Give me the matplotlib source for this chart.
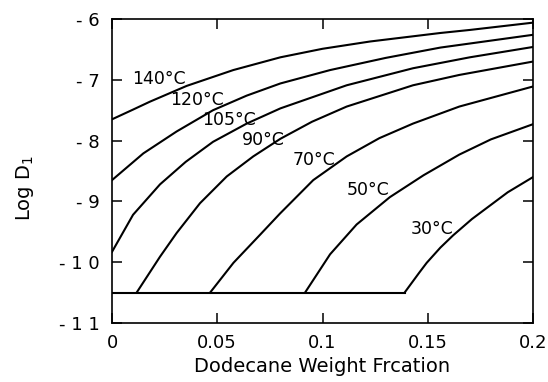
import matplotlib
matplotlib.use("Agg")
import matplotlib.pyplot as plt

# ---- data ----
temps = ["140°C", "120°C", "105°C", "90°C", "70°C", "50°C", "30°C"]

x140 = [0.0, 0.010, 0.018, 0.0355, 0.0576, 0.080, 0.100, 0.1226, 0.156, 0.170, 0.2]
y140 = [-7.65, -7.49, -7.36, -7.10, -6.84, -6.63, -6.49, -6.37, -6.23, -6.18, -6.06]

x120 = [0.0, 0.0149, 0.0307, 0.048, 0.064, 0.080, 0.1036, 0.130, 0.156, 0.2]
y120 = [-8.65, -8.21, -7.85, -7.50, -7.26, -7.06, -6.84, -6.64, -6.47, -6.26]

x105 = [0.0, 0.010, 0.0228, 0.035, 0.048, 0.064, 0.080, 0.1115, 0.143, 0.170, 0.2]
y105 = [-9.83, -9.22, -8.72, -8.35, -8.02, -7.72, -7.47, -7.09, -6.81, -6.63, -6.46]

x90 = [0.0117, 0.0228, 0.0307, 0.0418, 0.0545, 0.0671, 0.080, 0.095, 0.1115, 0.143, 0.165, 0.2]
y90 = [-10.5, -9.91, -9.52, -9.03, -8.59, -8.26, -7.97, -7.69, -7.44, -7.09, -6.92, -6.70]

x70 = [0.0466, 0.0577, 0.0703, 0.0798, 0.0956, 0.1115, 0.127, 0.143, 0.165, 0.2]
y70 = [-10.5, -10.01, -9.55, -9.20, -8.65, -8.26, -7.96, -7.72, -7.44, -7.11]

x50 = [0.0917, 0.1036, 0.1162, 0.132, 0.148, 0.165, 0.180, 0.2]
y50 = [-10.5, -9.87, -9.38, -8.93, -8.57, -8.23, -7.98, -7.73]

x30 = [0.139, 0.146, 0.1495, 0.156, 0.162, 0.171, 0.188, 0.2]
y30 = [-10.5, -10.17, -10.01, -9.76, -9.56, -9.29, -8.85, -8.60]

floor_x = [0.0, 0.139]
floor_y = [-10.5, -10.5]

label_x = [0.0223, 0.0404, 0.0556, 0.0717, 0.096, 0.1216, 0.152]
label_y = [-6.99, -7.33, -7.66, -7.99, -8.32, -8.81, -9.45]

xticks = [0, 0.05, 0.1, 0.15, 0.2]
xtick_labels = ["0", "0.05", "0.1", "0.15", "0.2"]
yticks = [-11, -10, -9, -8, -7, -6]
ytick_labels = ["- 1 1", "- 1 0", "- 9", "- 8", "- 7", "- 6"]

curves_x = [x140, x120, x105, x90, x70, x50, x30]
curves_y = [y140, y120, y105, y90, y70, y50, y30]

# ---- figure ----
plt.rcParams["font.family"] = ["DejaVu Sans"]
fig = plt.figure(figsize=(5.48, 3.82), dpi=100)
ax = fig.add_axes([112 / 548, 1 - 323 / 382, 421 / 548, 304 / 382])

for xs, ys in zip(curves_x, curves_y):
    ax.plot(xs, ys, color="black", lw=1.5, solid_joinstyle="round")
ax.plot(floor_x, floor_y, color="black", lw=1.5)

for t, lx, ly in zip(temps, label_x, label_y):
    ax.text(lx, ly, t, fontsize=12.5, ha="center", va="center", color="black")

ax.set_xlim(0, 0.2)
ax.set_ylim(-11, -6)
ax.set_xticks(xticks)
ax.set_xticklabels(xtick_labels)
ax.set_yticks(yticks)
ax.set_yticklabels(ytick_labels)
ax.tick_params(axis="both", direction="in", length=7, width=1.1,
               top=True, right=True, labelsize=13)
ax.tick_params(axis="y", pad=9)
ax.tick_params(axis="x", pad=8)
for s in ax.spines.values():
    s.set_linewidth(1.2)

fig.text(322 / 548, 1 - 366 / 382, "Dodecane Weight Frcation", fontsize=14,
         ha="center", va="center")
fig.text(25 / 548, 1 - 188 / 382, "Log D$_1$", fontsize=14, rotation=90,
         ha="center", va="center")

fig.savefig("out.png", dpi=100)
